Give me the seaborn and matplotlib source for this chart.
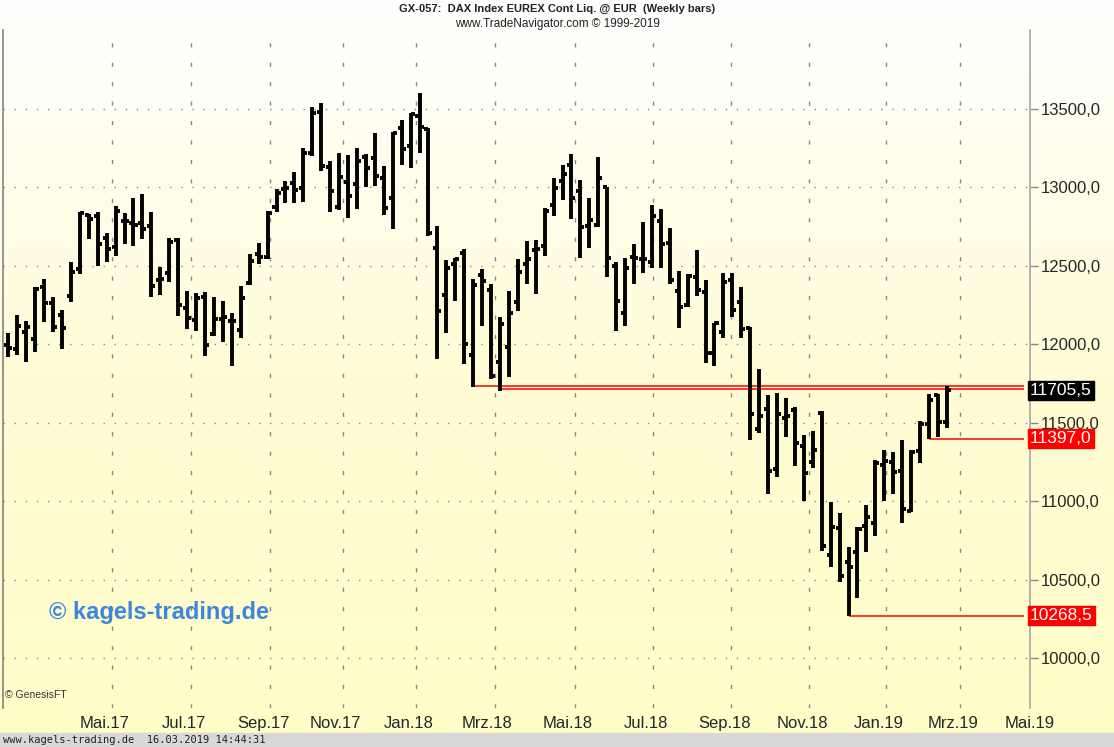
import numpy as np
import pandas as pd
import matplotlib
matplotlib.use("Agg")
import matplotlib.pyplot as plt
import seaborn as sns
from matplotlib.colors import LinearSegmentedColormap

# Weekly OHLC (DAX)
opens = [11996,11970,12078,12034,12365,12263,12187,12308,12480,12824,12818,12678,12620,12786,12773,12773,12754,12410,12455,12665,
         12231,12155,12302,12066,12161,12149,12091,12391,12576,12557,12875,12990,13029,12997,13220,13481,13131,12875,13035,13022,
         13194,13188,13060,12933,13379,13264,13456,13373,12614,12314,12512,12582,11932,12442,12346,11887,11983,12270,12512,12601,
         12627,12888,13041,13143,12977,12754,12761,13003,12499,12200,12557,12544,12525,12786,12646,12340,12251,12429,12334,11945,
         12078,12410,12270,12104,11460,11588,11205,11530,11581,11352,11250,11562,10657,10829,10612,10676,10842,10861,11231,11250,
         11192,10937,11320,11492,11677,11505]
highs = [12072,12187,12149,12365,12416,12302,12219,12525,12843,12831,12843,12710,12882,12837,12933,12958,12843,12493,12678,12678,
         12340,12327,12334,12302,12276,12200,12372,12576,12646,12850,12990,13041,13099,13252,13513,13538,13169,13220,13207,13252,
         13213,13347,13137,13354,13430,13475,13602,13379,12754,12537,12550,12608,12416,12480,12385,12174,12340,12544,12659,12665,
         12869,13060,13143,13213,13048,12933,13194,13003,12525,12550,12640,12780,12888,12863,12742,12467,12448,12601,12410,12136,
         12455,12455,12365,12110,11843,11677,11690,11658,11600,11422,11447,11575,10995,10925,10708,10835,10976,11263,11326,11314,
         11390,11326,11511,11683,11683,11734]
lows = [11919,11932,11887,11951,12142,12078,11970,12270,12448,12671,12499,12525,12563,12640,12627,12671,12302,12314,12397,12181,
        12098,12085,11926,12053,12015,11862,12040,12378,12512,12544,12843,12901,12901,12907,13200,13105,12843,12856,12805,12863,
        13003,13009,12824,12735,13143,13124,13220,12690,11906,12072,12276,11874,11727,12117,11779,11705,11792,12212,12385,12321,
        12563,12818,12920,12799,12550,12614,12748,12429,12085,12117,12385,12455,12487,12487,12385,12104,12238,12308,11881,11862,
        12040,12174,12040,11390,11435,11046,11154,11409,11224,11001,11212,10682,10580,10485,10268.5,10383,10676,10778,11001,11046,
        10861,10931,11243,11397,11409,11467]
closes = [11977,12117,12110,12353,12263,12110,12104,12461,12837,12799,12640,12608,12850,12786,12761,12735,12372,12416,12652,12251,
          12168,12295,11996,12161,12174,12149,12295,12531,12557,12837,12965,12997,12984,13220,13475,13137,12977,13067,12946,13169,
          13124,13073,12869,13347,13245,13468,13385,12710,12212,12487,12544,12002,12378,12404,11798,12130,12200,12461,12544,12608,
          12850,12997,13086,12933,12748,12792,13060,12550,12276,12487,12550,12544,12818,12640,12410,12238,12436,12346,11945,12136,
          12397,12219,12098,11556,11543,11192,11556,11543,11371,11180,11326,10714,10835,10523,10580,10823,10899,11243,11256,11186,
          10950,11314,11492,11645,11505,11705.5]

tick_pos = [10.8,19.6,28.5,36.6,44.8,53.6,62.6,71.3,80.1,88.8,97.4,105.7,114.3]
tick_labels = ["Mai.17","Jul.17","Sep.17","Nov.17","Jan.18","Mrz.18","Mai.18","Jul.18","Sep.18","Nov.18","Jan.19","Mrz.19","Mai.19"]
price_ticks = [10000,10500,11000,11500,12000,12500,13000,13500]
levels = [11734, 11715, 11397, 10268.5]
level_start = [52, 55, 103, 94]
markers = [(11705.5, "11705,5", "black"), (11397.0, "11397,0", "#ff0000"), (10268.5, "10268,5", "#ff0000")]

df = pd.DataFrame({"o": opens, "h": highs, "l": lows, "c": closes})
df["i"] = np.arange(len(df))

sns.set_theme(style="white")
plt.rcParams['font.family'] = ['Liberation Sans', 'DejaVu Sans']

W, H = 1114, 747
fig = plt.figure(figsize=(W/100, H/100), dpi=100)
bg = fig.add_axes([0, 0, 1, 1], zorder=-10)
grad = np.linspace(0, 1, 256)[:, None]
cmap = LinearSegmentedColormap.from_list("g", ["#ffffff", "#fffcd6", "#ffffc8"])
bg.imshow(grad, aspect="auto", cmap=cmap, extent=[0, 1, 0, 1], origin="upper")
bg.axis("off")
bg.set_xlim(0, 1); bg.set_ylim(0, 1)
bg.add_patch(plt.Rectangle((0, 0), 1, 14/H, color="#d8d8d8", zorder=2))

def px(x0, y0, x1, y1):
    return [x0/W, 1-y1/H, (x1-x0)/W, (y1-y0)/H]

ax = fig.add_axes(px(3, 30, 1030, 708))
ax.set_facecolor("none")
ax.set_xlim(-0.6, 113.6)
ax.set_ylim(13500-(708-109)*6.375, 13500+(109-30)*6.375)

for p in price_ticks:
    ax.axhline(p, color="#888888", lw=1.0, ls=(0, (1, 7)), zorder=1)
for t in tick_pos:
    ax.axvline(t+0.8, color="#888888", lw=1.0, ls=(0, (3, 11)), zorder=1)

ax.vlines(df["i"], df["l"], df["h"], color="black", lw=2.8, zorder=3)
ax.hlines(df["o"], df["i"]-0.45, df["i"], color="black", lw=2.8, zorder=3)
ax.hlines(df["c"], df["i"], df["i"]+0.45, color="black", lw=2.8, zorder=3)

for lv, st in zip(levels, level_start):
    ax.hlines(lv, st, 113.6, color="#ff0000", lw=1.1, zorder=2)

ax.set_xticks(tick_pos)
ax.set_xticklabels(tick_labels, fontsize=12)
ax.tick_params(axis="x", length=0, pad=6)
ax.yaxis.tick_right()
ax.set_yticks(price_ticks)
ax.set_yticklabels([f"{p},0" for p in price_ticks], fontsize=12)
ax.tick_params(axis="y", length=6, width=1, color="#888888", direction="out", pad=2)
for s in ["top", "bottom"]:
    ax.spines[s].set_visible(False)
ax.spines["left"].set_color("#888888")
ax.spines["right"].set_color("#aaaaaa")
for lbl in ax.get_xticklabels():
    lbl.set_clip_on(False)

for val, txt, col in markers:
    ax.text(1.0, val, txt, transform=ax.get_yaxis_transform(), ha="left", va="center",
            fontsize=12.5, color="white",
            bbox=dict(boxstyle="square,pad=0.12", fc=col, ec=col), zorder=5)

ax.text(0.045, 10290, "© kagels-trading.de", color="#3d86e0", fontsize=17, fontweight="bold",
        ha="left", va="center", transform=ax.get_yaxis_transform())
ax.text(0.002, 0.012, "© GenesisFT", fontsize=7.5, color="#333333", ha="left", va="bottom", transform=ax.transAxes)

fig.text(0.5, 1-9/H, "GX-057:  DAX Index EUREX Cont Liq. @ EUR  (Weekly bars)", ha="center", va="center",
         fontsize=8, fontweight="bold", color="#222222")
fig.text(0.5, 1-24/H, "www.TradeNavigator.com © 1999-2019", ha="center", va="center", fontsize=8.5, color="#222222")
fig.text(3/W, 7/H, "www.kagels-trading.de  16.03.2019 14:44:31", ha="left", va="center",
         fontsize=7.5, family="DejaVu Sans Mono", color="#222222")

fig.savefig("out.png", dpi=100)
